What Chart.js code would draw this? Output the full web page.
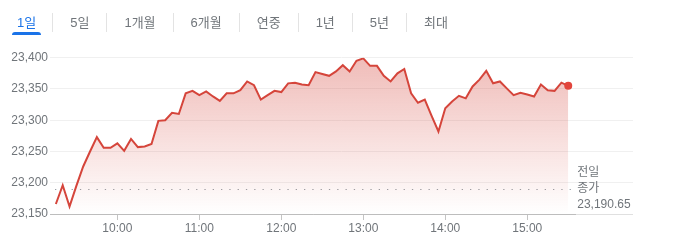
<!DOCTYPE html>
<html>
<head>
<meta charset="utf-8">
<script src="https://cdn.jsdelivr.net/npm/chart.js@4/dist/chart.umd.min.js"></script>
<style>
  html, body { margin: 0; padding: 0; background: #fff; }
  body { width: 680px; height: 244px; position: relative; overflow: hidden;
         font-family: Arial, "Liberation Sans", "Noto Sans CJK KR", sans-serif; }
  #tabs { position: absolute; left: -1px; top: 13px; height: 19px; display: flex; z-index: 2; }
  .tab { padding: 0 17px; font-size: 13px; line-height: 20px; color: #70757a;
         border-left: 1px solid #e3e3e3; position: relative; white-space: nowrap; }
  .tab:first-child { border-left: none; padding-left: 18px; padding-right: 16px; }
  .tab.on { color: #1a73e8; }
  .tab.on::after { content: ""; position: absolute; left: 13px; right: 11px; bottom: -3px;
                   height: 3px; background: #1a73e8; border-radius: 3px 3px 0 0; }
  #wrap { position: absolute; left: 0; top: 0; width: 680px; height: 244px; }
</style>
</head>
<body>
<div id="tabs"></div>
<div id="wrap"><canvas id="chart"></canvas></div>
<script>
// 탭 / 축 / 데이터
const tabLabels = ["1일", "5일", "1개월", "6개월", "연중", "1년", "5년", "최대"];
const xTickLabels = ["10:00", "11:00", "12:00", "13:00", "14:00", "15:00"];
const yTicks = [23150, 23200, 23250, 23300, 23350, 23400];
const prevClose = 23190.65;
const closeLabel = ["전일", "종가"];

const times = [
  "9:15", "9:20", "9:25", "9:30", "9:35", "9:40", "9:45", "9:50", "9:55",
  "10:00", "10:05", "10:10", "10:15", "10:20", "10:25", "10:30", "10:35", "10:40", "10:45", "10:50", "10:55",
  "11:00", "11:05", "11:10", "11:15", "11:20", "11:25", "11:30", "11:35", "11:40", "11:45", "11:50", "11:55",
  "12:00", "12:05", "12:10", "12:15", "12:20", "12:25", "12:30", "12:35", "12:40", "12:45", "12:50", "12:55",
  "13:00", "13:05", "13:10", "13:15", "13:20", "13:25", "13:30", "13:35", "13:40", "13:45", "13:50", "13:55",
  "14:00", "14:05", "14:10", "14:15", "14:20", "14:25", "14:30", "14:35", "14:40", "14:45", "14:50", "14:55",
  "15:00", "15:05", "15:10", "15:15", "15:20", "15:25", "15:30"
];
const prices = [
  23166, 23196, 23162, 23195, 23226, 23250, 23273, 23256, 23256,
  23263, 23251, 23270, 23257, 23258, 23262, 23299, 23300, 23312, 23310, 23343, 23347,
  23340, 23346, 23338, 23331, 23343, 23343, 23348, 23362, 23356, 23333, 23340, 23347,
  23345, 23359, 23360, 23357, 23356, 23377, 23374, 23371, 23378, 23388, 23378, 23395,
  23399, 23387, 23387, 23371, 23362, 23375, 23382, 23343, 23328, 23333, 23307, 23282,
  23319, 23330, 23339, 23335, 23354, 23365, 23379, 23359, 23362, 23351, 23340, 23344,
  23341, 23338, 23357, 23348, 23347, 23360, 23355
];

const toMin = t => { const [h, m] = t.split(":"); return +h * 60 + +m; };
const fmtTime = v => Math.floor(v / 60) + ":" + String(v % 60).padStart(2, "0");

const LINE = "#d5453b";
const TXT = "#70757a";
const FONT = "Arial, 'Liberation Sans', 'Noto Sans CJK KR', sans-serif";

// 탭 만들기
const tabsEl = document.getElementById("tabs");
tabLabels.forEach((l, i) => {
  const s = document.createElement("span");
  s.className = "tab" + (i === 0 ? " on" : "");
  s.textContent = l;
  tabsEl.appendChild(s);
});

const endMin = toMin(times[times.length - 1]);

const overlay = {
  id: "overlay",
  beforeDatasetsDraw(chart) {
    const { ctx, chartArea, scales: { x, y } } = chart;
    const yc = Math.round(y.getPixelForValue(prevClose)) + 0.5;
    ctx.save();
    ctx.strokeStyle = "#9aa0a6";
    ctx.lineWidth = 1;
    ctx.setLineDash([1.3, 7]);
    ctx.beginPath();
    ctx.moveTo(chartArea.left + 5, yc);
    ctx.lineTo(x.getPixelForValue(endMin) + 6, yc);
    ctx.stroke();
    ctx.restore();
  },
  afterDraw(chart) {
    const { ctx, chartArea, scales: { x, y } } = chart;
    const xe = x.getPixelForValue(endMin) + 8;
    const yb = Math.round(chartArea.bottom) + 0.5;
    ctx.save();
    ctx.lineWidth = 1;
    ctx.strokeStyle = "#bdbdbd";
    ctx.beginPath(); ctx.moveTo(chartArea.left, yb); ctx.lineTo(xe, yb); ctx.stroke();
    ctx.strokeStyle = "#e0e0e0";
    ctx.beginPath(); ctx.moveTo(xe, yb); ctx.lineTo(chartArea.right, yb); ctx.stroke();

    const yc = y.getPixelForValue(prevClose);
    ctx.fillStyle = TXT;
    ctx.font = "12px " + FONT;
    ctx.textBaseline = "middle";
    ctx.textAlign = "left";
    ctx.fillText(closeLabel[0], xe + 1, yc - 15.5);
    ctx.fillText(closeLabel[1], xe + 1, yc);
    ctx.fillText(prevClose.toLocaleString("en-US", { minimumFractionDigits: 2 }), xe + 1, yc + 16.5);
    ctx.restore();
  }
};

new Chart(document.getElementById("chart"), {
  type: "line",
  data: {
    datasets: [{
      data: times.map((t, i) => ({ x: toMin(t), y: prices[i] })),
      borderColor: LINE,
      borderWidth: 2,
      tension: 0,
      fill: "start",
      pointRadius: c => (c.dataIndex === prices.length - 1 ? 4 : 0),
      pointHoverRadius: 0,
      pointBackgroundColor: "#e2453c",
      pointBorderWidth: 0,
      backgroundColor: c => {
        const area = c.chart.chartArea;
        if (!area) return "rgba(213,69,59,0.2)";
        const g = c.chart.ctx.createLinearGradient(0, area.top, 0, area.bottom);
        g.addColorStop(0, "rgba(213,69,59,0.36)");
        g.addColorStop(1, "rgba(213,69,59,0)");
        return g;
      }
    }]
  },
  options: {
    responsive: true,
    maintainAspectRatio: false,
    animation: false,
    events: [],
    layout: { padding: { top: 57.7, right: 47, left: 0, bottom: 0 } },
    plugins: { legend: { display: false }, tooltip: { enabled: false } },
    scales: {
      x: {
        type: "linear",
        min: 550.7,
        max: 977.4,
        afterBuildTicks: s => { s.ticks = xTickLabels.map(l => ({ value: toMin(l) })); },
        afterFit: s => { s.height = 30; },
        ticks: { callback: v => fmtTime(v), color: TXT, font: { size: 12, family: FONT },
                 padding: 1, maxRotation: 0, autoSkip: false },
        grid: { drawOnChartArea: false, drawTicks: true, tickLength: 6, color: "#c4c4c4" },
        border: { display: false }
      },
      y: {
        min: 23150,
        max: 23400,
        afterBuildTicks: s => { s.ticks = yTicks.map(v => ({ value: v })); },
        afterFit: s => { s.width = 50; },
        ticks: { callback: v => v.toLocaleString("en-US"), color: TXT,
                 font: { size: 12, family: FONT }, padding: 2 },
        grid: { color: "#f0f0f0", drawTicks: false },
        border: { display: false }
      }
    }
  },
  plugins: [overlay]
});
</script>
</body>
</html>
